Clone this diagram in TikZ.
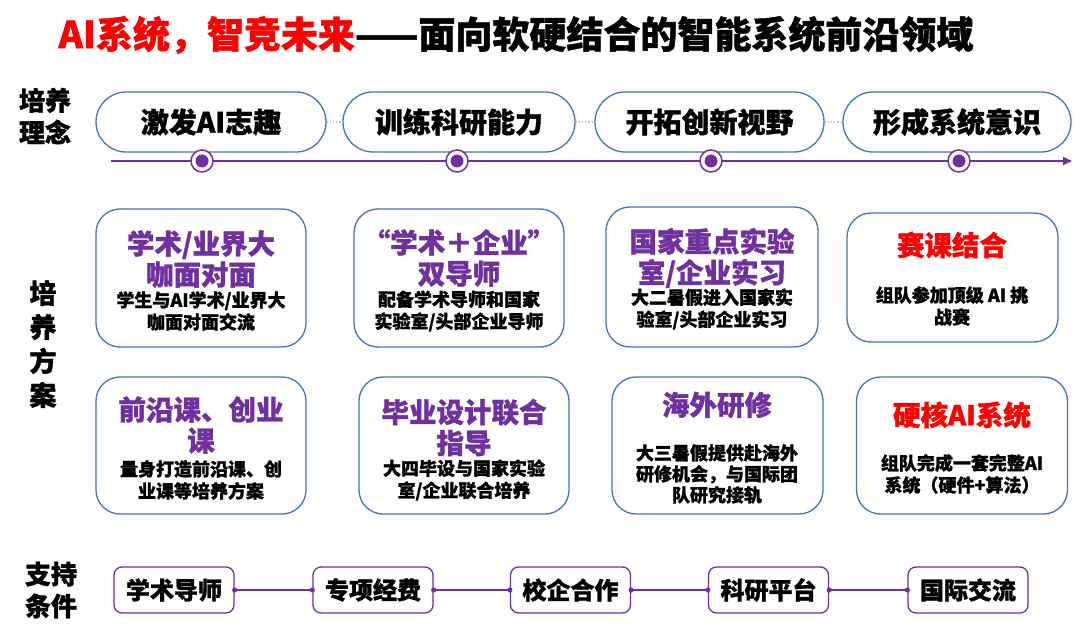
\documentclass[tikz,border=0pt]{standalone}
\usepackage{fontspec}
\setmainfont{Noto Sans CJK SC}[BoldFeatures={FakeBold=1.2}]
\usetikzlibrary{arrows.meta}
\definecolor{purp}{HTML}{7030A0}
\definecolor{boxblue}{HTML}{4472C4}
\definecolor{lightpurp}{HTML}{C9B3E0}
\definecolor{hotred}{HTML}{FF0000}
\tikzset{
  sidelabel/.style={align=center, inner sep=0, font=\fontsize{26}{32}\selectfont\bfseries},
  pill/.style={draw=boxblue, line width=1.3, rounded corners=30, minimum height=60, inner sep=0, font=\fontsize{28}{32}\selectfont\bfseries},
  planbox/.style={draw=boxblue, line width=1.3, rounded corners=24, inner sep=0},
  ptitle/.style={align=center, inner sep=0, text=purp, font=\fontsize{27.5}{31}\selectfont\bfseries},
  rtitle/.style={align=center, inner sep=0, text=hotred, font=\fontsize{27.5}{31}\selectfont\bfseries},
  pbody/.style={align=center, inner sep=0, font=\fontsize{18}{22}\selectfont\bfseries},
  supbox/.style={draw=purp, line width=1.3, rounded corners=8, minimum width=120, minimum height=46, inner sep=0, font=\fontsize{24}{28}\selectfont\bfseries},
  ringdot/.style={circle, draw=purp, line width=1.5, fill=white, minimum size=22, inner sep=0,
    path picture={\fill[purp] (path picture bounding box.center) circle (6.5);}},
  dotline/.style={lightpurp, line width=1.2, dotted},
  supline/.style={purp, line width=1.5},
}
\begin{document}
\begin{tikzpicture}[x=1pt,y=-1pt]
\useasboundingbox (0,0) rectangle (1080,639);
\fill[white] (0,0) rectangle (1080,639);

% title
\node[inner sep=0, font=\fontsize{37}{40}\selectfont\bfseries] (title) at (516,35)
  {\textcolor{hotred}{AI系统，智竞未来}——面向软硬结合的智能系统前沿领域};

% side labels
\node[sidelabel] (lab1) at (45,116) {培养\\理念};
\node[sidelabel, font=\fontsize{27}{34}\selectfont\bfseries] (lab2) at (43,344) {培\\养\\方\\案};
\node[sidelabel] (lab3) at (51,590) {支持\\条件};

% timeline
\coordinate (tl0) at (111,161);
\coordinate (tl1) at (1072,161);
\draw[purp, line width=1.5, -{Triangle[length=9,width=8]}] (tl0) -- (tl1);

% pills
\node[pill, minimum width=230] (p1) at (211,122) {激发AI志趣};
\node[pill, minimum width=232] (p2) at (459,122) {训练科研能力};
\node[pill, minimum width=229] (p3) at (709.5,122) {开拓创新视野};
\node[pill, minimum width=228] (p4) at (957,122) {形成系统意识};
\draw[dotline] (p1) -- (p2);
\draw[dotline] (p2) -- (p3);
\draw[dotline] (p3) -- (p4);

\node[ringdot] (c1) at (202,161) {};
\node[ringdot] (c2) at (457,161) {};
\node[ringdot] (c3) at (711,161) {};
\node[ringdot] (c4) at (959,161) {};

% plan boxes row 1
\node[planbox, minimum width=210, minimum height=138] (b11) at (201,278) {};
\node[planbox, minimum width=210, minimum height=138] (b12) at (459,278) {};
\node[planbox, minimum width=212, minimum height=140] (b13) at (712,277) {};
\node[planbox, minimum width=211, minimum height=129] (b14) at (952.5,277.5) {};

\node[ptitle] (t11) at (201,259) {学术/业界大\\咖面对面};
\node[pbody] (d11) at (201,311) {学生与AI学术/业界大\\咖面对面交流};
\node[ptitle] (t12) at (459,258) {“学术＋企业”\\双导师};
\node[pbody] (d12) at (459,311) {配备学术导师和国家\\实验室/头部企业导师};
\node[ptitle] (t13) at (712,258) {国家重点实验\\室/企业实习};
\node[pbody] (d13) at (712,309) {大二暑假进入国家实\\验室/头部企业实习};
\node[rtitle] (t14) at (952,245) {赛课结合};
\node[pbody] (d14) at (952,306) {组队参加顶级 AI 挑\\战赛};

% plan boxes row 2
\node[planbox, minimum width=210, minimum height=137] (b21) at (201,445.5) {};
\node[planbox, minimum width=210, minimum height=137] (b22) at (464,445.5) {};
\node[planbox, minimum width=211, minimum height=137] (b23) at (717.5,445.5) {};
\node[planbox, minimum width=211, minimum height=137] (b24) at (962,445.5) {};

\node[ptitle] (t21) at (201,425) {前沿课、创业\\课};
\node[pbody] (d21) at (201,480) {量身打造前沿课、创\\业课等培养方案};
\node[ptitle] (t22) at (464,427.5) {毕业设计联合\\指导};
\node[pbody] (d22) at (464,480) {大四毕设与国家实验\\室/企业联合培养};
\node[ptitle] (t23) at (717,405) {海外研修};
\node[pbody, font=\fontsize{18}{21}\selectfont\bfseries] (d23) at (717,474) {大三暑假提供赴海外\\研修机会，与国际团\\队研究接轨};
\node[rtitle] (t24) at (962,415) {硬核AI系统};
\node[pbody] (d24) at (962,474) {组队完成一套完整AI\\系统（硬件+算法）};

% support row
\node[supbox] (s1) at (174,590) {学术导师};
\node[supbox] (s2) at (373,590) {专项经费};
\node[supbox] (s3) at (570.5,590) {校企合作};
\node[supbox] (s4) at (768.5,590) {科研平台};
\node[supbox] (s5) at (968,590) {国际交流};
\foreach \a/\b in {s1/s2,s2/s3,s3/s4,s4/s5}{
  \draw[supline] (\a.east) -- (\b.west);
  \fill[purp] (\a.east) circle (2.6);
  \fill[purp] (\b.west) circle (2.6);
}
\end{tikzpicture}
\end{document}
